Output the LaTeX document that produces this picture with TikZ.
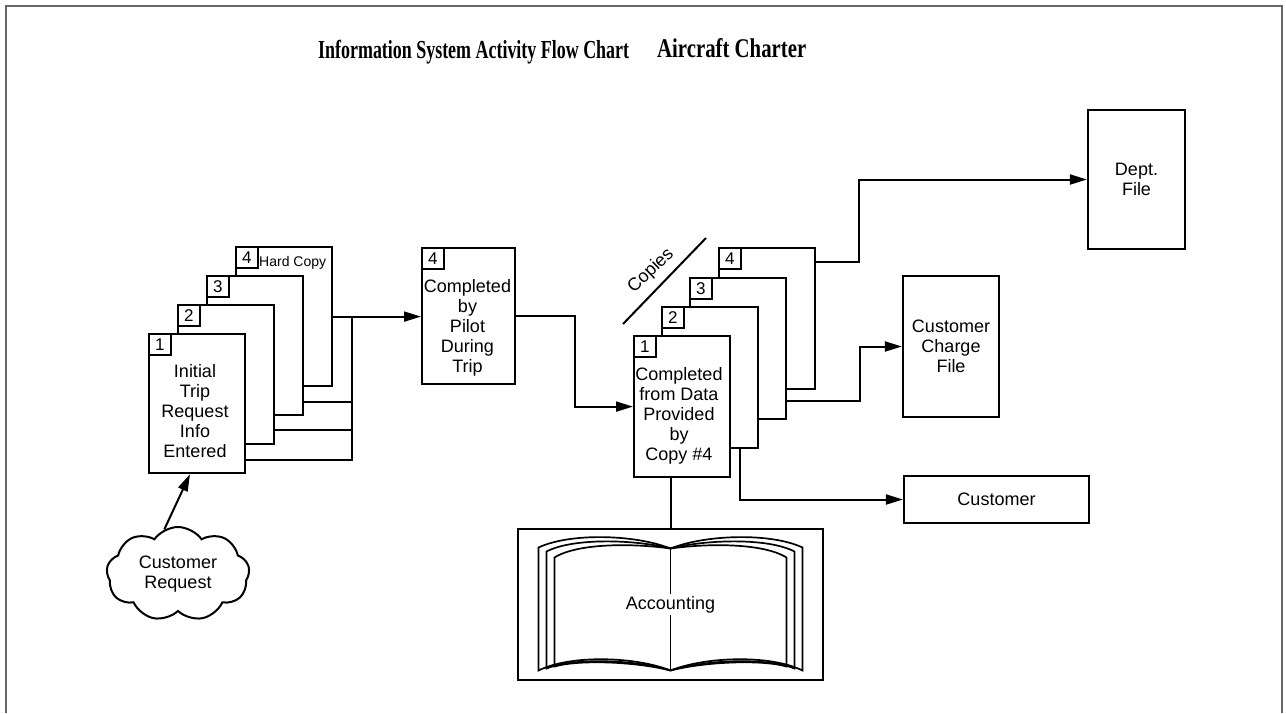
\documentclass[tikz,border=0pt]{standalone}
\usepackage{fontspec}
\setmainfont{Liberation Sans}
\newfontfamily\titlefonta[FakeStretch=0.69]{Liberation Serif}
\newfontfamily\titlefontb[FakeStretch=0.77]{Liberation Serif}
\usetikzlibrary{arrows.meta,shapes.symbols,calc}
\begin{document}
\begin{tikzpicture}[x=1pt,y=-1pt,
  doc/.style={draw, fill=white, line width=2.2pt, minimum width=96pt, minimum height=139pt, anchor=north west, inner sep=0pt},
  numbox/.style={draw, fill=white, line width=1.8pt, minimum width=22pt, minimum height=21pt, anchor=north west, inner sep=0pt, font=\fontsize{17}{17}\selectfont},
  txt/.style={align=center, font=\fontsize{18}{20}\selectfont, inner sep=0pt},
  box/.style={draw, line width=2.2pt, inner sep=0pt, align=center, font=\fontsize{18}{20}\selectfont},
  conn/.style={line width=2pt},
  arr/.style={conn, -{Triangle[length=17pt,width=10pt]}},
  bk/.style={line width=1.7pt},
  framec/.style={draw=black!60, line width=2pt}
]
\fill[white] (0,0) rectangle (1286,713);
\useasboundingbox (0,0) rectangle (1286,713);
\draw[framec] (5.5,713) -- (5.5,5.5) -- (1282,5.5) -- (1282,713);

% title
\node[font=\titlefonta\bfseries\fontsize{26}{26}\selectfont, anchor=base west, inner sep=0pt] (title1) at (318,58) {Information System Activity Flow Chart};
\node[font=\titlefontb\bfseries\fontsize{27}{27}\selectfont, anchor=base west, inner sep=0pt] (title2) at (657,57) {Aircraft Charter};

% left stack
\node[doc] (L4) at (235,246) {};
\node[numbox] (L4n) at (L4.north west) {4};
\node[font=\fontsize{14}{14}\selectfont, anchor=west, inner sep=0pt] (hc) at (259,263) {Hard Copy};
\node[doc] (L3) at (206,275) {};
\node[numbox] (L3n) at (L3.north west) {3};
\node[doc] (L2) at (177,304) {};
\node[numbox] (L2n) at (L2.north west) {2};
\node[doc] (L1) at (148,333) {};
\node[numbox] (L1n) at (L1.north west) {1};
\node[txt] (L1t) at (195,411.5) {Initial\\Trip\\Request\\Info\\Entered};

% bus
\coordinate (busT) at (352,315.5);
\draw[conn] ($(L3.south east)+(0,-14)$) -| (busT);
\draw[conn] ($(L2.south east)+(0,-15)$) -| (busT);
\draw[conn] ($(L1.south east)+(0,-14)$) -| (busT);

% pilot doc
\node[doc, minimum width=93pt, minimum height=136pt] (pilot) at (421,247) {};
\node[numbox] (pn) at (pilot.north west) {4};
\node[txt] (pt) at (467.5,327.5) {Completed\\by\\Pilot\\During\\Trip};
\draw[arr] (L4.east) -- (pilot.west |- L4.east);

% middle stack
\node[doc, minimum height=141pt] (m4) at (718,247) {};
\node[numbox] (m4n) at (m4.north west) {4};
\node[doc, minimum height=141pt] (m3) at (689,277) {};
\node[numbox] (m3n) at (m3.north west) {3};
\node[doc, minimum height=141pt] (m2) at (661,306) {};
\node[numbox] (m2n) at (m2.north west) {2};
\node[doc, minimum height=141pt] (m1) at (633,335) {};
\node[numbox] (m1n) at (m1.north west) {1};
\node[txt] (m1t) at (679,415.5) {Completed\\from Data\\Provided\\by\\Copy \#4};

\draw[arr] (pilot.east) -| ($(pilot.east)!0.5!(m1.west)$) |- (m1.west);

% copies
\coordinate (cpA) at (623,324);
\coordinate (cpB) at (706,238);
\draw[conn] (cpA) -- (cpB);
\node[rotate=44, font=\fontsize{18}{18}\selectfont, inner sep=0pt] (copies) at (651,271) {Copies};

% right boxes
\node[box, minimum width=97pt, minimum height=139pt] (dept) at (1136.5,179.5) {Dept.\\File};
\node[box, minimum width=96pt, minimum height=141pt] (ccf) at (951,346.5) {Customer\\Charge\\File};
\node[box, minimum width=185pt, minimum height=47pt] (cust) at (996.5,499.5) {Customer};

\coordinate (j4) at (859,262);
\coordinate (j3) at (860,401);
\coordinate (j2) at (740,499.5);
\draw[arr] (m4.east |- j4) -- (j4) |- (dept.west);
\draw[arr] (m3.east |- j3) -- (j3) |- (ccf.west);
\draw[arr] (j2 |- m2.south) -- (j2) -- (cust.west);

% book
\node[draw, line width=2.2pt, minimum width=305pt, minimum height=151pt, inner sep=0pt] (book) at (670.5,604.5) {};
\draw[conn] (book.north) -- (book.north |- m1.south);
\begin{scope}[shift={(book.center)}]
  \draw[bk] (0,-56) .. controls (-35,-70) and (-100,-72) .. (-132,-57) -- (-132,66) .. controls (-100,50) and (-35,52) .. (0,66);
  \draw[bk] (0,-56) .. controls (-35,-65) and (-97,-67) .. (-124,-53) -- (-124,64) .. controls (-97,53) and (-35,55) .. (0,66);
  \draw[bk] (0,-56) .. controls (-35,-61) and (-92,-62) .. (-116,-47) -- (-116,62) .. controls (-92,55) and (-35,57) .. (0,66);
  \draw[bk] (0,-56) -- (0,66);
\end{scope}
\begin{scope}[shift={(book.center)}, xscale=-1]
  \draw[bk] (0,-56) .. controls (-35,-70) and (-100,-72) .. (-132,-57) -- (-132,66) .. controls (-100,50) and (-35,52) .. (0,66);
  \draw[bk] (0,-56) .. controls (-35,-65) and (-97,-67) .. (-124,-53) -- (-124,64) .. controls (-97,53) and (-35,55) .. (0,66);
  \draw[bk] (0,-56) .. controls (-35,-61) and (-92,-62) .. (-116,-47) -- (-116,62) .. controls (-92,55) and (-35,57) .. (0,66);
\end{scope}
\node[fill=white, inner sep=2pt, font=\fontsize{18}{18}\selectfont] (acct) at (book.center) {Accounting};

% cloud
\node[cloud, draw, line width=2pt, cloud puffs=9, cloud puff arc=110, aspect=1.55, minimum width=143pt, minimum height=94pt, inner sep=0pt, align=center, font=\fontsize{18}{20}\selectfont] (cloud) at (178,574) {Customer\\Request};
\draw[arr] (cloud.107) -- ($(L1.south west)+(42,0)$);
\end{tikzpicture}
\end{document}
